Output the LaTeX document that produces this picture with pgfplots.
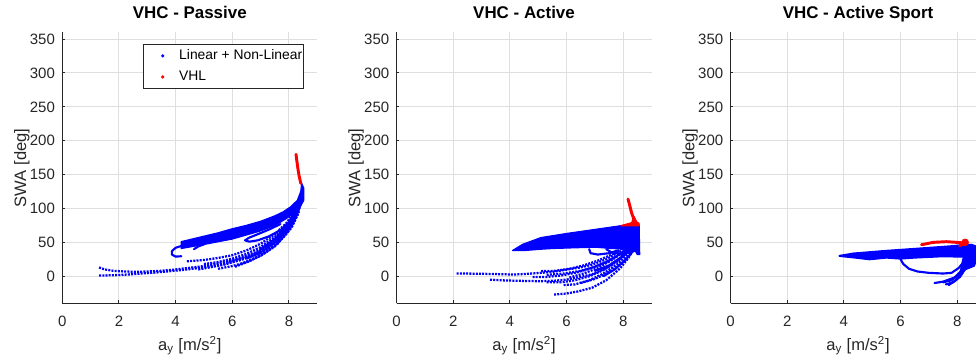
\documentclass[border=0pt]{standalone}
\usepackage{pgfplots}
\pgfplotsset{compat=1.18}
\usepackage{fontspec}
\setmainfont{Liberation Sans}
\definecolor{axgray}{RGB}{38,38,38}
\definecolor{gridgray}{RGB}{223,223,223}
\definecolor{mblue}{RGB}{0,0,255}
\definecolor{mred}{RGB}{255,0,0}
\pgfplotsset{
 vhc/.style={
  scale only axis, width=191.25pt, height=203.25pt,
  xmin=0,xmax=9,ymin=-40,ymax=360,
  xtick={0,2,4,6,8}, ytick={0,50,...,350},
  axis lines*=left, axis line style={-,draw=axgray,line width=0.75pt},
  tick align=inside, major tick length=2.2pt, tick style={axgray,line width=0.75pt},
  grid=major, grid style={gridgray,line width=0.75pt},
  /pgf/number format/assume math mode=true,
  ticklabel style={font=\fontsize{11.25}{13}\selectfont, text=axgray},
  xticklabel style={anchor=base, yshift=-17.5pt},
  yticklabel style={anchor=east, inner sep=0pt, xshift=-5.3pt},
  xlabel={a\textsubscript{y} [m/s\textsuperscript{2}]},
  ylabel={SWA [deg]},
  every axis x label/.style={at={(axis description cs:0.5,-0.1722)},anchor=base,
     font=\fontsize{12.4}{14}\selectfont, text=axgray},
  every axis y label/.style={at={(axis description cs:-0.1422,0.5)},rotate=90,anchor=base,
     font=\fontsize{12.4}{14}\selectfont, text=axgray},
  title style={font=\bfseries\fontsize{12.7}{15}\selectfont, at={(axis description cs:0.5,1.0221)}, anchor=base},
 },
 bl/.style={mblue, line width=1.6pt, forget plot, line join=round, line cap=round},
 bd/.style={mblue, line width=1.7pt, dash pattern=on 1.5pt off 0.9pt, forget plot},
 bf/.style={fill=mblue, draw=mblue, line width=1pt, line join=round, forget plot},
 rl/.style={mred, line width=2.2pt, forget plot, line cap=round},
 rf/.style={fill=mred, draw=mred, line width=1pt, line join=round, forget plot},
}
\begin{document}
\begin{tikzpicture}
% ---------------- Passive ----------------
\begin{axis}[vhc, at={(46.7pt,-227.5pt)}, anchor=south west,
  title={VHC - Passive},
  legend image code/.code={\path[draw=none,fill=none] (0cm,-0.1cm) rectangle (0.9cm,0.1cm); \draw[#1] plot coordinates {(0.5cm,0cm)};},
  legend style={at={(0.3176,0.957)}, anchor=north west, draw=axgray, line width=0.75pt,
    font=\fontsize{10.4}{12}\selectfont, inner xsep=0pt, inner ysep=2pt, row sep=3pt,
    nodes={inner xsep=1pt}},
  legend cell align=left]
\addlegendimage{only marks, mark=*, mark size=0.8pt, mblue}
\addlegendentry{Linear + Non-Linear}
\addlegendimage{only marks, mark=*, mark size=0.8pt, mred}
\addlegendentry{VHL}
% dotted tails
\addplot[bd] coordinates {(1.3,13) (1.5,10) (1.8,8) (2.2,7) (2.6,6.5) (3,7) (3.5,8) (4,10) (4.5,12.5) (5,15) (5.5,19) (6,23) (6.5,28) (7,36) (7.5,50) (7.9,70) (8.2,90) (8.4,110)};
\addplot[bd] coordinates {(1.3,1) (1.8,1.5) (2.3,2.5) (2.8,4) (3.3,5.5) (3.8,7.5) (4.3,9.5) (4.8,12) (5.3,15) (5.8,19) (6.3,24) (6.8,31) (7.3,42) (7.8,60) (8.2,85) (8.4,105)};
% lower band traces
\addplot[bd] coordinates {(4.4,22) (5,24) (5.5,27) (6,31) (6.5,38) (7,48) (7.5,62) (7.9,78) (8.2,95) (8.4,110)};
\addplot[bd] coordinates {(4.8,10) (5.2,13) (5.7,17) (6.2,23) (6.7,31) (7.2,43) (7.6,57) (8.0,76) (8.3,98) (8.45,115)};
\addplot[bd] coordinates {(5.5,11) (6,15) (6.5,21) (7,30) (7.5,44) (7.9,62) (8.2,82) (8.4,105)};
\addplot[bd] coordinates {(6.3,18) (6.8,27) (7.2,36) (7.6,50) (8,68) (8.3,90) (8.45,112)};
\addplot[bd] coordinates {(6.9,30) (7.3,40) (7.7,53) (8.1,72) (8.35,95)};
\addplot[bd] coordinates {(5,18) (5.5,21) (6,26) (6.5,33) (7,43) (7.5,58) (8,80) (8.3,100)};
\addplot[bd] coordinates {(5.8,21) (6.3,27) (6.8,35) (7.3,47) (7.8,66) (8.2,90) (8.4,108)};
\addplot[bd] coordinates {(6.1,14) (6.6,22) (7.1,33) (7.6,48) (8.0,70) (8.3,95)};
\addplot[bl] coordinates {(6.5,26) (7,35) (7.5,50) (8,72) (8.3,95) (8.45,112)};
\addplot[bl] coordinates {(7.0,40) (7.5,55) (8,78) (8.3,100)};
% upper band
\addplot[bf] coordinates {(4.2,51) (4.6,55) (5,59) (5.5,64) (6,70) (6.5,75) (7,81) (7.5,89) (7.8,95) (8.05,102) (8.3,112) (8.42,125) (8.45,137) (8.52,130) (8.52,112) (8.4,103) (8.2,94) (7.9,85) (7.5,75) (7.0,67) (6.5,61) (6,55) (5.5,51) (5,47) (4.6,44) (4.2,41)} -- cycle;
% loop
\addplot[bl] coordinates {(7.7,77) (7.3,69) (6.9,62) (6.6,57) (6.45,53) (6.6,51) (6.9,53) (7.3,59) (7.7,68) (8.0,78)};
% hooks
\addplot[bl] coordinates {(4.3,46) (4.0,42) (3.87,37) (3.87,32) (4.0,29) (4.2,29.5)};
\addplot[bl] coordinates {(4.65,40) (4.8,44) (5.0,47)};
% VHL
\addplot[rl] coordinates {(8.25,180) (8.28,170) (8.32,158) (8.36,148) (8.42,137)};
\end{axis}
% ---------------- Active ----------------
\begin{axis}[vhc, at={(297.4pt,-227.5pt)}, anchor=south west,
  title={VHC - Active}]
\addplot[bd] coordinates {(2.12,4) (2.8,3.8) (3.5,3.2) (4.15,2.5) (4.6,3.5) (5.1,5) (5.6,7) (6.0,9.8) (6.5,13) (6.9,17) (7.4,25) (7.9,37) (8.2,50) (8.4,62)};
\addplot[bd] coordinates {(3.3,-5) (3.7,-6) (4.1,-6.5) (4.6,-7) (5.1,-7.4) (5.6,-6.5) (6.0,-5) (6.5,-1) (6.9,3) (7.4,12) (7.9,27) (8.2,42) (8.4,55)};
\addplot[bd] coordinates {(5.56,-27) (6.0,-25.5) (6.4,-22.5) (6.9,-17) (7.4,-6) (7.9,12) (8.2,28) (8.4,42)};
\addplot[bd] coordinates {(5.1,7.5) (5.6,8) (6.1,11) (6.6,16) (7.1,23) (7.6,32) (8,42) (8.3,55)};
\addplot[bd] coordinates {(5.3,-9) (5.8,-9) (6.3,-6) (6.8,0) (7.3,9) (7.8,22) (8.2,38) (8.4,50)};
\addplot[bd] coordinates {(5.9,-13) (6.3,-12) (6.8,-6) (7.3,4) (7.8,18) (8.2,34) (8.45,48)};
\addplot[bd] coordinates {(4.8,-1) (5.3,-1) (5.8,1) (6.3,5) (6.8,11) (7.3,19) (7.8,30) (8.2,43)};
\addplot[bd] coordinates {(6.1,-2) (6.6,4) (7.1,12) (7.6,24) (8.1,38) (8.4,52)};
\addplot[bd] coordinates {(5.3,2) (5.9,4) (6.5,8) (7.0,14) (7.5,23) (8.0,36) (8.35,50)};
\addplot[bd] coordinates {(6.5,-10) (7.0,-4) (7.5,6) (8.0,20) (8.3,36)};
\addplot[bl] coordinates {(7,8) (7.5,16) (8,30) (8.4,45)};
\addplot[bl] coordinates {(7.3,0) (7.7,10) (8.1,25) (8.45,42)};
% blobs
\addplot[bl] coordinates {(6.8,40) (6.85,34) (7.1,32) (7.5,34) (7.8,38)};
\addplot[bl] coordinates {(7.4,40) (7.6,35) (8.0,33) (8.3,36)};
% upper wedge
\addplot[bf] coordinates {(4.1,38) (4.45,47) (5.1,57) (6.0,63) (7.0,69) (8.0,75) (8.56,76) (8.58,32) (8.5,32) (8.45,36) (8.2,40) (7.6,41) (7,43) (6.2,42) (5.5,41) (5.1,40) (4.5,38)} -- cycle;
% VHL
\addplot[rl] coordinates {(8.17,114) (8.24,103) (8.3,93) (8.38,84) (8.45,78)};
\addplot[rf] coordinates {(7.92,74.5) (8.3,79) (8.38,88) (8.48,80) (8.56,78) (8.56,74.5)} -- cycle;
\end{axis}
% ---------------- Active Sport ----------------
\begin{axis}[vhc, at={(547.9pt,-227.5pt)}, anchor=south west,
  title={VHC - Active Sport}]
\addplot[bf] coordinates {(3.84,30.5) (4.33,34) (5.5,38) (6.7,41.5) (7.86,45) (8.21,46.5) (8.5,47) (8.7,44) (8.7,30) (8.5,28) (7.5,29) (6.5,27) (6,25.5) (5.5,27) (4.9,24.5) (4.4,27) (3.84,29.5)} -- cycle;
\addplot[bl] coordinates {(6.0,25) (6.1,18) (6.3,11) (6.6,7) (7.0,5) (7.5,4) (7.8,5) (8.05,12) (8.25,22) (8.35,30)};
\addplot[bl] coordinates {(7.2,-10) (7.5,-8) (7.9,-2) (8.1,6) (8.3,18)};
\addplot[bl] coordinates {(7.5,-9) (7.8,-6) (8.05,2) (8.25,14) (8.4,25)};
\addplot[bl] coordinates {(7.7,-13) (7.95,-6) (8.15,4) (8.35,18)};
\addplot[bl] coordinates {(7.6,-12) (7.85,-9) (8.1,-1) (8.3,12)};
\addplot[bf] coordinates {(8.1,5) (8.3,10) (8.6,15) (8.7,25) (8.7,40) (8.3,40) (8.2,25)} -- cycle;
\addplot[rl] coordinates {(6.74,46.5) (7.15,50) (7.62,51) (7.98,50) (8.27,49)};
\addplot[rl] coordinates {(8.09,45) (8.27,49)};
\addplot[only marks, mark=*, mark size=2.6pt, mred, forget plot] coordinates {(8.28,50)};
\end{axis}
\pgfresetboundingbox
\path[use as bounding box] (0,0) rectangle (732pt,-271.5pt);
\end{tikzpicture}
\end{document}
